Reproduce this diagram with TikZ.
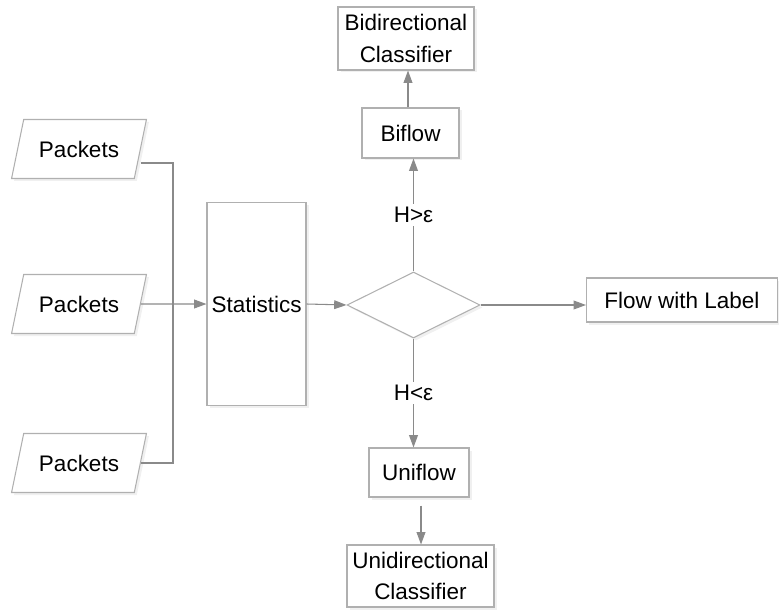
\documentclass[tikz,border=0pt]{standalone}
\usepackage{fontspec}
\setmainfont{Liberation Sans}
\usepackage{tikz}
\usetikzlibrary{shapes.geometric,arrows.meta,shadows,calc}
\usepackage{xcolor}
\definecolor{edgegray}{HTML}{B0B0B0}
\definecolor{arrowgray}{HTML}{8A8A8A}

\begin{document}
\begin{tikzpicture}[
  font=\fontsize{12.8}{18}\selectfont,
  softshadow/.style={drop shadow={shadow xshift=0.05cm, shadow yshift=-0.05cm, opacity=0.12}},
  box/.style={draw=edgegray, line width=0.6pt, fill=white, softshadow, align=center, inner sep=0pt, anchor=center},
  packet/.style={box, trapezium, trapezium left angle=62, trapezium right angle=118, trapezium stretches=true, minimum width=2.7cm, minimum height=1.18cm},
  decision/.style={box, diamond, minimum width=2.66cm, minimum height=1.32cm},
  link/.style={draw=arrowgray, line width=0.6pt},
  flow/.style={link, -{Triangle[length=7pt, width=5pt]}},
  cond/.style={fill=white, inner sep=2pt, midway},
]
\useasboundingbox (0,0) rectangle (15.58,12.2);

% Input packets
\node[packet] (pk1) at (1.58, 9.22) {Packets};
\node[packet] (pk2) at (1.58, 6.12) {Packets};
\node[packet] (pk3) at (1.58, 2.94) {Packets};

% Statistics and decision
\node[box, minimum width=1.98cm, minimum height=4.06cm] (stat) at (5.13, 6.12) {Statistics};
\node[decision] (dec) at (8.27, 6.1) {};

% Output branches
\node[box, minimum width=1.94cm, minimum height=1.0cm] (biflow) at (8.21, 9.54) {Biflow};
\node[box, minimum width=2.72cm, minimum height=1.26cm] (bicls) at (8.12, 11.43) {Bidirectional\\Classifier};
\node[box, minimum width=2.0cm, minimum height=0.98cm] (uniflow) at (8.38, 2.75) {Uniflow};
\node[box, minimum width=2.94cm, minimum height=1.24cm] (unicls) at (8.41, 0.68) {Unidirectional\\Classifier};
\node[box, minimum width=3.82cm, minimum height=0.88cm] (label) at (13.64, 6.2) {Flow with Label};

% Packets merge into statistics
\coordinate (join) at (3.46, 6.12);
\draw[link] ([yshift=-0.28cm]pk1.east) -| (join);
\draw[link] (pk3.east) -| (join);
\draw[flow] (pk2.east) -- (stat.west);

% Decision arrows
\draw[flow] (stat.east) -- (dec.west);
\draw[flow] (dec.east) -- (dec.east -| label.west);
\draw[flow] (dec.north) -- (dec.north |- biflow.south) node[cond] {H>ε};
\draw[flow] (dec.south) -- (dec.south |- uniflow.north) node[cond] {H<ε};
\draw[flow] ([xshift=-0.05cm]biflow.north) -- ([xshift=-0.05cm]biflow.north |- bicls.south);
\draw[flow, shorten <=0.16cm] ([xshift=0.04cm]uniflow.south) -- ([xshift=0.04cm]uniflow.south |- unicls.north);

\end{tikzpicture}
\end{document}
